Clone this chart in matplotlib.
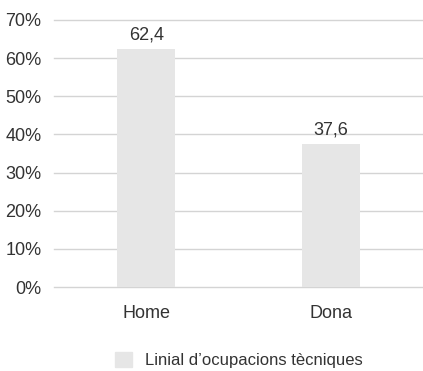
import matplotlib
matplotlib.use("Agg")
import matplotlib.pyplot as plt
from matplotlib.patches import Patch

categories = ["Home", "Dona"]
values = [62.4, 37.6]
value_labels = ["62,4", "37,6"]
yticks = [0, 10, 20, 30, 40, 50, 60, 70]
ytick_labels = ["0%", "10%", "20%", "30%", "40%", "50%", "60%", "70%"]
series_name = "Linial d\u2019ocupacions t\u00e8cniques"

plt.rcParams['font.family'] = ['Liberation Sans', 'DejaVu Sans']
txt = "#333333"
fs = 13
fig = plt.figure(figsize=(4.23, 3.71), dpi=100)
ax = fig.add_axes([54/423, (371-287)/371, 369/423, (287-20)/371])
x = list(range(len(categories)))
bars = ax.bar(x, values, width=0.315, color="#e6e6e6", zorder=2)
for xi, v, lab in zip(x, values, value_labels):
    ax.text(xi, v + 1.4, lab, ha="center", va="bottom", fontsize=fs, color=txt)
ax.set_xlim(-0.5, 1.5)
ax.set_ylim(0, 70)
ax.set_yticks(yticks)
ax.set_yticklabels(ytick_labels, fontsize=fs, color=txt)
ax.set_xticks(x)
ax.set_xticklabels(categories, fontsize=fs, color=txt)
ax.tick_params(axis="y", length=0, pad=9)
ax.tick_params(axis="x", length=0, pad=13)
ax.grid(axis="y", color="#d4d4d4", linewidth=1, zorder=0)
for gl in ax.get_ygridlines():
    gl.set_clip_on(False)
for s in ax.spines.values():
    s.set_visible(False)
fig.legend(handles=[Patch(color="#e6e6e6", label=series_name)],
           loc="center", bbox_to_anchor=(0.565, (371-360)/371), frameon=False,
           fontsize=12, handlelength=1.0, handleheight=1.0, handletextpad=0.8,
           labelcolor=txt, borderpad=0)
fig.savefig("out.png", dpi=100)
